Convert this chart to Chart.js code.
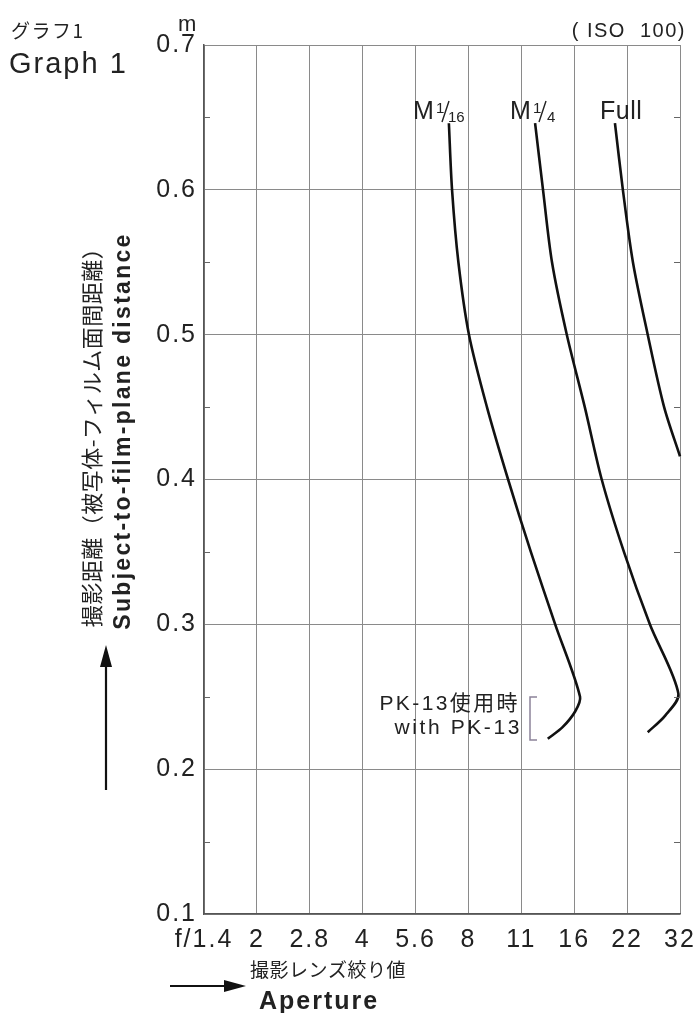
<!DOCTYPE html>
<html>
<head>
<meta charset="utf-8">
<script src="https://cdn.jsdelivr.net/npm/chart.js@4.4.1/dist/chart.umd.min.js"></script>
<style>
  body { margin: 0; background: #fff; }
  canvas { display: block; }
</style>
</head>
<body>
<canvas id="chart" width="693" height="1013"></canvas>
<script>
// Aperture stops (x axis is one unit per stop)
const apertureLabels = ['f/1.4', '2', '2.8', '4', '5.6', '8', '11', '16', '22', '32'];
const distanceMin = 0.1;
const distanceMax = 0.7;

// M 1/16 curve (x = stop index, y = distance in m)
const m16Stops = [4.63, 4.69, 4.81, 5.01, 5.35, 5.75, 6.18, 6.64, 7.11, 7.02, 6.78, 6.50];
const m16Dist = [0.646, 0.600, 0.550, 0.500, 0.450, 0.400, 0.350, 0.300, 0.250, 0.240, 0.229, 0.221];

// M 1/4 curve
const m4Stops = [6.26, 6.41, 6.58, 6.86, 7.20, 7.52, 7.94, 8.43, 8.97, 8.72, 8.39];
const m4Dist = [0.646, 0.600, 0.550, 0.500, 0.450, 0.400, 0.350, 0.300, 0.252, 0.237, 0.2255];

// Full curve
const fullStops = [7.77, 7.92, 8.11, 8.39, 8.70, 9.0];
const fullDist = [0.646, 0.600, 0.550, 0.500, 0.450, 0.416];

const minorTicks = [0.15, 0.25, 0.35, 0.45, 0.55, 0.65];

const latin = '"Liberation Sans", Arial, "Noto Sans CJK JP", sans-serif';
const cjk = '"Noto Sans CJK JP", "Liberation Sans", sans-serif';

function toPoints(xs, ys) {
    return xs.map((x, i) => ({ x: x, y: ys[i] }));
}

function curve(xs, ys) {
    return {
        data: toPoints(xs, ys),
        showLine: true,
        borderColor: '#111',
        borderWidth: 2.6,
        pointRadius: 0,
        tension: 0.3,
        fill: false,
        clip: 4,
    };
}

function arrowHead(ctx, tipX, tipY, dir) {
    ctx.beginPath();
    if (dir === 'up') {
        ctx.moveTo(tipX, tipY);
        ctx.lineTo(tipX - 6, tipY + 22);
        ctx.lineTo(tipX + 6, tipY + 22);
    } else {
        ctx.moveTo(tipX, tipY);
        ctx.lineTo(tipX - 22, tipY - 6);
        ctx.lineTo(tipX - 22, tipY + 6);
    }
    ctx.closePath();
    ctx.fill();
}

function spacedText(ctx, text, x, y, font, spacing) {
    ctx.font = font;
    ctx.letterSpacing = spacing + 'px';
    ctx.fillText(text, x, y);
}

// wider tick lettering like the printed chart
const tickSpacing = {
    id: 'tickSpacing',
    beforeUpdate(chart) { chart.ctx.letterSpacing = '2px'; },
    beforeDraw(chart) { chart.ctx.letterSpacing = '2px'; },
};

// texts, minor ticks and arrows around the plot
const decorations = {
    id: 'decorations',
    afterDraw(chart) {
        const ctx = chart.ctx;
        const area = chart.chartArea;
        const yScale = chart.scales.y;
        ctx.save();

        // minor ticks on both borders
        ctx.strokeStyle = '#666';
        ctx.lineWidth = 1;
        minorTicks.forEach(v => {
            const py = Math.round(yScale.getPixelForValue(v)) + 0.5;
            ctx.beginPath();
            ctx.moveTo(area.left, py);
            ctx.lineTo(area.left + 6, py);
            ctx.moveTo(area.right, py);
            ctx.lineTo(area.right - 6, py);
            ctx.stroke();
        });

        ctx.fillStyle = '#222';
        ctx.textBaseline = 'alphabetic';
        ctx.textAlign = 'left';

        spacedText(ctx, 'グラフ1', 11, 38, '19px ' + cjk, 1.5);
        spacedText(ctx, 'Graph 1', 9, 73, '29px ' + latin, 2);
        spacedText(ctx, 'm', 178, 31, '22px ' + latin, 0);

        ctx.textAlign = 'right';
        spacedText(ctx, '( ISO  100)', 686, 37, '20px ' + latin, 1.5);

        // curve labels
        ctx.textAlign = 'left';
        spacedText(ctx, 'M', 413, 119, '25px ' + latin, 0);
        spacedText(ctx, 'M', 510, 119, '25px ' + latin, 0);
        spacedText(ctx, 'Full', 600, 119, '25px ' + latin, 0.5);
        spacedText(ctx, '1', 436, 113, '15px ' + latin, 0);
        spacedText(ctx, '16', 448, 122, '15px ' + latin, 0);
        spacedText(ctx, '1', 533, 113, '15px ' + latin, 0);
        spacedText(ctx, '4', 547, 122, '15px ' + latin, 0);
        ctx.strokeStyle = '#222';
        ctx.lineWidth = 1.4;
        ctx.beginPath();
        ctx.moveTo(442, 122);
        ctx.lineTo(449, 101);
        ctx.moveTo(539, 122);
        ctx.lineTo(546, 101);
        ctx.stroke();

        // PK-13 note with bracket
        ctx.textAlign = 'right';
        spacedText(ctx, 'PK-13使用時', 520, 710, '21px ' + latin, 2.4);
        spacedText(ctx, 'with PK-13', 522, 734, '21px ' + latin, 2.6);
        ctx.strokeStyle = '#8c8299';
        ctx.lineWidth = 1.5;
        ctx.beginPath();
        ctx.moveTo(537, 697);
        ctx.lineTo(530, 697);
        ctx.lineTo(530, 740);
        ctx.lineTo(537, 740);
        ctx.stroke();

        // y axis title (rotated)
        ctx.save();
        ctx.rotate(-Math.PI / 2);
        ctx.textAlign = 'center';
        ctx.textBaseline = 'middle';
        ctx.fillStyle = '#222';
        spacedText(ctx, '撮影距離（被写体-フィルム面間距離）', -432, 92, '22px ' + cjk, 0.5);
        spacedText(ctx, 'Subject-to-film-plane distance', -431, 124, 'bold 23px ' + latin, 2.3);
        ctx.restore();

        // arrows
        ctx.fillStyle = '#111';
        ctx.strokeStyle = '#111';
        ctx.lineWidth = 2.2;
        ctx.beginPath();
        ctx.moveTo(106, 790);
        ctx.lineTo(106, 662);
        ctx.stroke();
        arrowHead(ctx, 106, 645, 'up');
        ctx.beginPath();
        ctx.moveTo(170, 986);
        ctx.lineTo(228, 986);
        ctx.stroke();
        arrowHead(ctx, 246, 986, 'right');

        // x axis title
        ctx.fillStyle = '#222';
        ctx.textAlign = 'left';
        ctx.textBaseline = 'alphabetic';
        spacedText(ctx, '撮影レンズ絞り値', 250, 977, '19px ' + cjk, 0.5);
        spacedText(ctx, 'Aperture', 259, 1009, 'bold 25px ' + latin, 2);

        ctx.restore();
    }
};

const ctx = document.getElementById('chart').getContext('2d');
new Chart(ctx, {
    type: 'scatter',
    data: {
        datasets: [
            curve(m16Stops, m16Dist),
            curve(m4Stops, m4Dist),
            curve(fullStops, fullDist),
        ]
    },
    options: {
        responsive: false,
        animation: false,
        layout: {
            padding: { top: 45, right: 13, left: 0, bottom: 0 }
        },
        plugins: {
            legend: { display: false },
            tooltip: { enabled: false },
        },
        scales: {
            x: {
                type: 'linear',
                min: 0,
                max: apertureLabels.length - 1,
                afterFit: s => {
                    s.height = 99;
                    s.paddingLeft = 0;
                    s.paddingRight = 0;
                },
                ticks: {
                    stepSize: 1,
                    autoSkip: false,
                    maxRotation: 0,
                    padding: 11,
                    color: '#222',
                    font: { family: latin, size: 25 },
                    callback: v => apertureLabels[Math.round(v)],
                },
                grid: { color: '#8a8a8a', lineWidth: 1, drawTicks: false },
                border: { color: '#555', width: 1.5 },
            },
            y: {
                type: 'linear',
                min: distanceMin,
                max: distanceMax,
                afterFit: s => { s.width = 204; },
                ticks: {
                    stepSize: 0.1,
                    padding: 7,
                    color: '#222',
                    font: { family: latin, size: 25 },
                    callback: v => Number(v).toFixed(1),
                },
                grid: { color: '#8a8a8a', lineWidth: 1, drawTicks: false },
                border: { color: '#555', width: 1.5 },
            }
        }
    },
    plugins: [tickSpacing, decorations]
});
</script>
</body>
</html>
